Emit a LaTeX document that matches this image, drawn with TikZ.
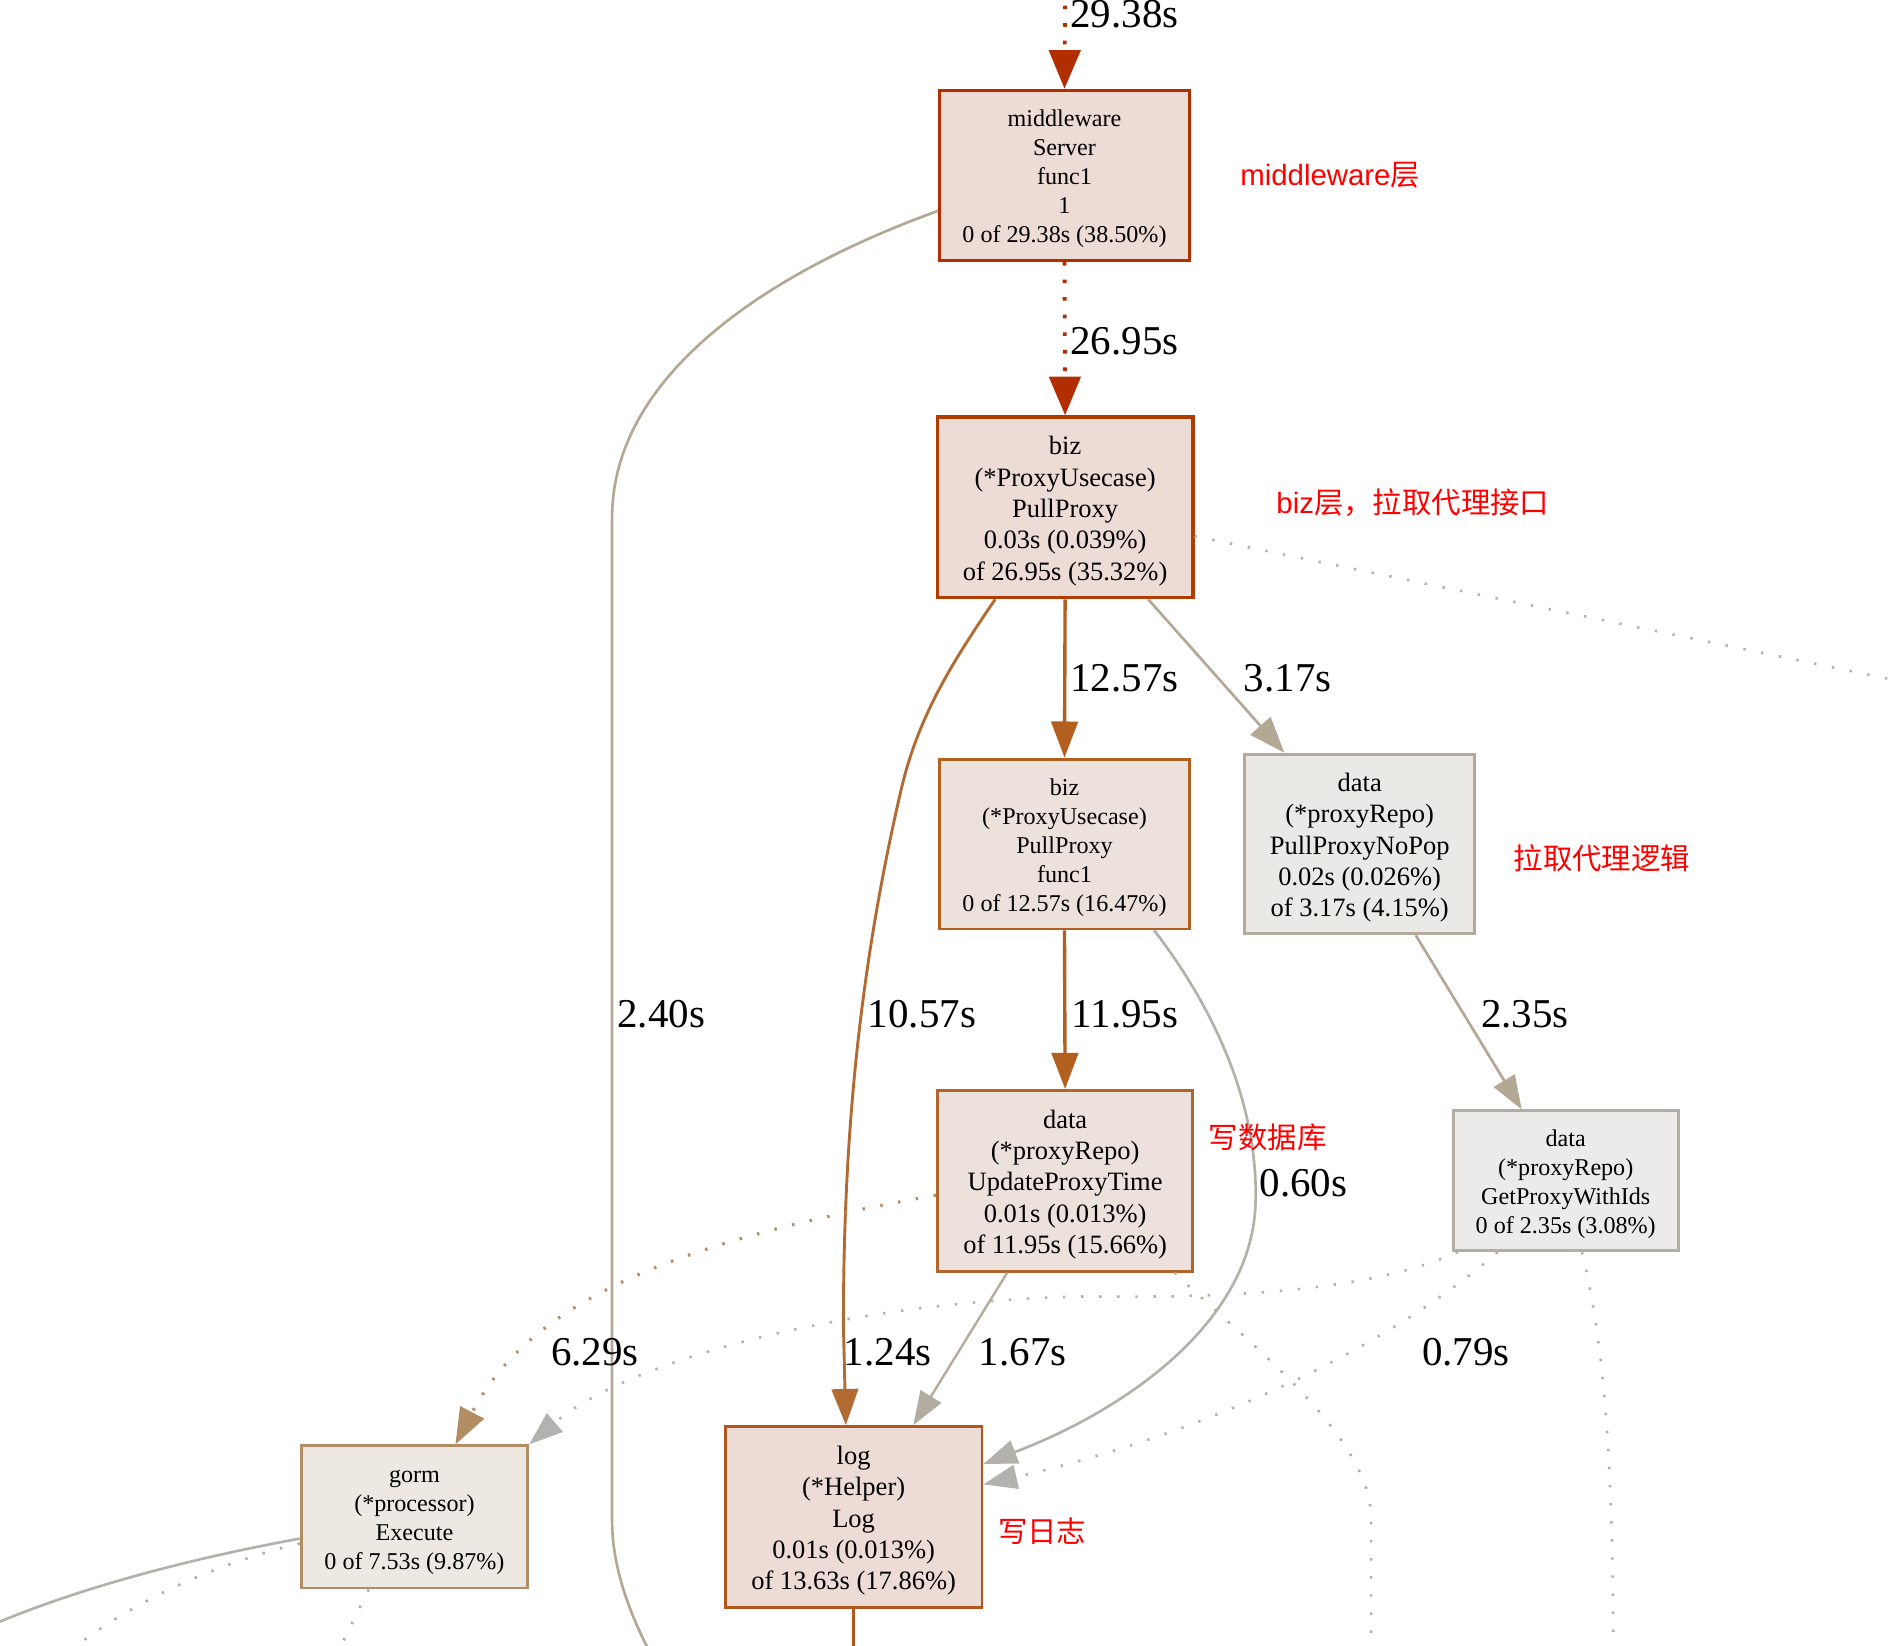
\documentclass[tikz,border=0pt]{standalone}
\usepackage{fontspec}
\setmainfont{Liberation Serif}
\newfontfamily\cjk{Noto Sans CJK SC}
\newfontfamily\lsans{Liberation Sans}
\usetikzlibrary{arrows.meta}
\newcommand\padS{\rule{0pt}{9.9pt}}
\newcommand\padB{\rule{0pt}{10.8pt}}
\definecolor{cRed}{HTML}{B22E00}
\definecolor{cRed2}{HTML}{B23C00}
\definecolor{cOr}{HTML}{B25F20}
\definecolor{cOr2}{HTML}{B26A33}
\definecolor{cUpd}{HTML}{B2652B}
\definecolor{cLog}{HTML}{B2561C}
\definecolor{cTan}{HTML}{B2A894}
\definecolor{cTan2}{HTML}{B28C62}
\definecolor{cGray}{HTML}{B2B1AB}
\definecolor{cGray2}{HTML}{B2AD9F}
\definecolor{cDot}{HTML}{B2AE9E}
\definecolor{cDotG}{HTML}{B2B2B0}
\definecolor{cNop}{HTML}{B2AB9C}
\definecolor{cGpw}{HTML}{B2AEA5}
\definecolor{fRed}{HTML}{EDDBD5}
\definecolor{fOr}{HTML}{EDE2DB}
\definecolor{fLog}{HTML}{EDDCD5}
\definecolor{fGray}{HTML}{EBE9E6}
\definecolor{fGray2}{HTML}{ECEBE9}
\definecolor{fGorm}{HTML}{EDE8E2}
\begin{document}
\begin{tikzpicture}[x=0.5pt,y=-0.5pt,
  fn/.style={draw, rectangle, inner sep=0pt, align=center, line width=1.2pt},
  sm/.style={font=\fontsize{10}{12}\selectfont},
  bg/.style={font=\fontsize{11}{13}\selectfont},
  elab/.style={anchor=west, inner sep=0pt, font=\fontsize{17}{20}\selectfont},
  note/.style={anchor=west, inner sep=0pt, text=red, font=\cjk\fontsize{12.2}{14}\selectfont},
  bigtip/.style={-{Triangle[length=16pt,width=13pt]}},
  tip/.style={-{Triangle[length=15pt,width=11pt]}},
  thintip/.style={-{Triangle[length=14pt,width=10pt]}},
  reddot/.style={line width=1.6pt, dash pattern=on 1.5pt off 5.8pt},
  thindot/.style={line width=1.1pt, dash pattern=on 1pt off 6.5pt}
]
\useasboundingbox (0,0) rectangle (1567,1366);
\clip (0,0) rectangle (1567,1366);

% nodes
\node[fn, sm, fill=fRed, draw=cRed, line width=1.4pt, minimum width=103.5pt, minimum height=70.5pt] (mw) at (883.5,145.5)
  {\padS middleware\\Server\\func1\\1\\0 of 29.38s (38.50\%)};
\node[fn, bg, fill=fRed, draw=cRed2, line width=1.4pt, minimum width=106pt, minimum height=75pt] (biz) at (884,421)
  {\padB biz\\(*ProxyUsecase)\\PullProxy\\0.03s (0.039\%)\\of 26.95s (35.32\%)};
\node[fn, sm, fill=fOr, draw=cOr, minimum width=103.5pt, minimum height=70.5pt] (func) at (883.5,700.5)
  {\padS biz\\(*ProxyUsecase)\\PullProxy\\func1\\0 of 12.57s (16.47\%)};
\node[fn, bg, fill=fGray, draw=cNop, minimum width=95.5pt, minimum height=74.5pt] (nopop) at (1128.5,700.5)
  {\padB data\\(*proxyRepo)\\PullProxyNoPop\\0.02s (0.026\%)\\of 3.17s (4.15\%)};
\node[fn, bg, fill=fOr, draw=cUpd, minimum width=106pt, minimum height=75pt] (upd) at (884,980)
  {\padB data\\(*proxyRepo)\\UpdateProxyTime\\0.01s (0.013\%)\\of 11.95s (15.66\%)};
\node[fn, sm, fill=fGray2, draw=cGpw, minimum width=93.5pt, minimum height=58pt] (gpw) at (1299.5,980)
  {\padS data\\(*proxyRepo)\\GetProxyWithIds\\0 of 2.35s (3.08\%)};
\node[fn, sm, fill=fGorm, draw=cTan2, minimum width=94pt, minimum height=59pt] (gorm) at (344,1259)
  {\padS gorm\\(*processor)\\Execute\\0 of 7.53s (9.87\%)};
\node[fn, bg, fill=fLog, draw=cLog, minimum width=106.5pt, minimum height=75pt] (log) at (708.5,1259)
  {\padB log\\(*Helper)\\Log\\0.01s (0.013\%)\\of 13.63s (17.86\%)};

% free ends
\coordinate (top) at (884,-10);
\coordinate (bl) at (544,1380);
\coordinate (rt) at (1580,566);
\coordinate (ud) at (1138,1380);
\coordinate (gd) at (1339,1380);
\coordinate (gl) at (-10,1350);
\coordinate (gl2) at (46,1380);
\coordinate (gd2) at (276,1380);
\coordinate (ld) at (708.5,1380);

% edges
\draw[cRed, reddot, bigtip] (top) -- (mw.north);
\draw[cRed, reddot, bigtip] (mw.south) -- (biz.north);
\draw[cTan, line width=1.1pt] ([yshift=-14.75pt]mw.west) .. controls (640,225) and (508,310) .. (508,430) -- (508,1262) .. controls (508,1300) and (522,1340) .. (bl);
\draw[cOr2, line width=1.2pt, tip] ([xshift=-29pt]biz.south) .. controls (790,550) and (762,595) .. (748,655) .. controls (712,810) and (700,950) .. (700,1100) -- ([xshift=-3.25pt]log.north);
\draw[cOr, line width=1.4pt, tip] (biz.south) -- (func.north);
\draw[cTan, line width=1.1pt, tip] ([xshift=34.5pt]biz.south) -- ([xshift=-31.25pt]nopop.north);
\draw[cDotG, thindot] ([yshift=-12pt]biz.east) -- (rt);
\draw[cOr, line width=1.4pt, tip] (func.south) -- (upd.north);
\draw[cGray, line width=1.1pt, thintip] ([xshift=37.25pt]func.south) .. controls (1010,840) and (1045,920) .. (1042,1000) .. controls (1038,1100) and (930,1172) .. ([yshift=22pt]log.east);
\draw[cTan, line width=1.1pt, thintip] ([xshift=23.25pt]nopop.south) -- ([xshift=-18.25pt]gpw.north);
\draw[cTan2, thindot, line width=1.3pt, tip] ([yshift=-6pt]upd.west) .. controls (560,1030) and (440,1080) .. ([xshift=17pt]gorm.north);
\draw[cGray2, line width=1pt, thintip] ([xshift=-24pt]upd.south) -- ([xshift=24.75pt]log.north);
\draw[cDot, thindot] ([xshift=45.5pt]upd.south) .. controls (1030,1110) and (1138,1190) .. (1138,1260) -- (ud);
\draw[cDotG, thindot, thintip] ([xshift=-44.75pt]gpw.south) .. controls (1130,1075) and (1000,1077) .. (900,1076) .. controls (700,1080) and (520,1130) .. (gorm.north east);
\draw[cDotG, thindot, thintip] ([xshift=-28.25pt]gpw.south) .. controls (1150,1120) and (1000,1190) .. ([yshift=13.5pt]log.east);
\draw[cDotG, thindot] ([xshift=6.75pt]gpw.south) .. controls (1330,1110) and (1339,1200) .. (gd);
\draw[cGray, line width=1.1pt] ([yshift=-9pt]gorm.west) .. controls (150,1295) and (60,1320) .. (gl);
\draw[cDot, thindot] ([yshift=-11pt]gorm.west) .. controls (190,1295) and (110,1325) .. (gl2);
\draw[cDot, thindot] ([xshift=-19pt]gorm.south) -- (gd2);
\draw[cLog, line width=1.2pt] (log.south) -- (ld);

% edge labels
\node[elab] (l1) at (888,12) {29.38s};
\node[elab] (l2) at (888,283) {26.95s};
\node[elab] (l3) at (888,563) {12.57s};
\node[elab] (l4) at (1032,563) {3.17s};
\node[elab] (l5) at (512,842) {2.40s};
\node[elab] (l6) at (720,842) {10.57s};
\node[elab] (l7) at (889,842) {11.95s};
\node[elab] (l8) at (1229,842) {2.35s};
\node[elab] (l9) at (1045,982) {0.60s};
\node[elab] (l10) at (457,1122) {6.29s};
\node[elab] (l11) at (700,1122) {1.24s};
\node[elab] (l12) at (812,1122) {1.67s};
\node[elab] (l13) at (1180,1122) {0.79s};

% notes
\node[note] (n1) at (1029,145) {{\lsans middleware}层};
\node[note] (n2) at (1059,417) {{\lsans biz}层，拉取代理接口};
\node[note] (n3) at (1256,712) {拉取代理逻辑};
\node[note] (n4) at (1003,944) {写数据库};
\node[note] (n5) at (828,1271) {写日志};
\end{tikzpicture}
\end{document}
